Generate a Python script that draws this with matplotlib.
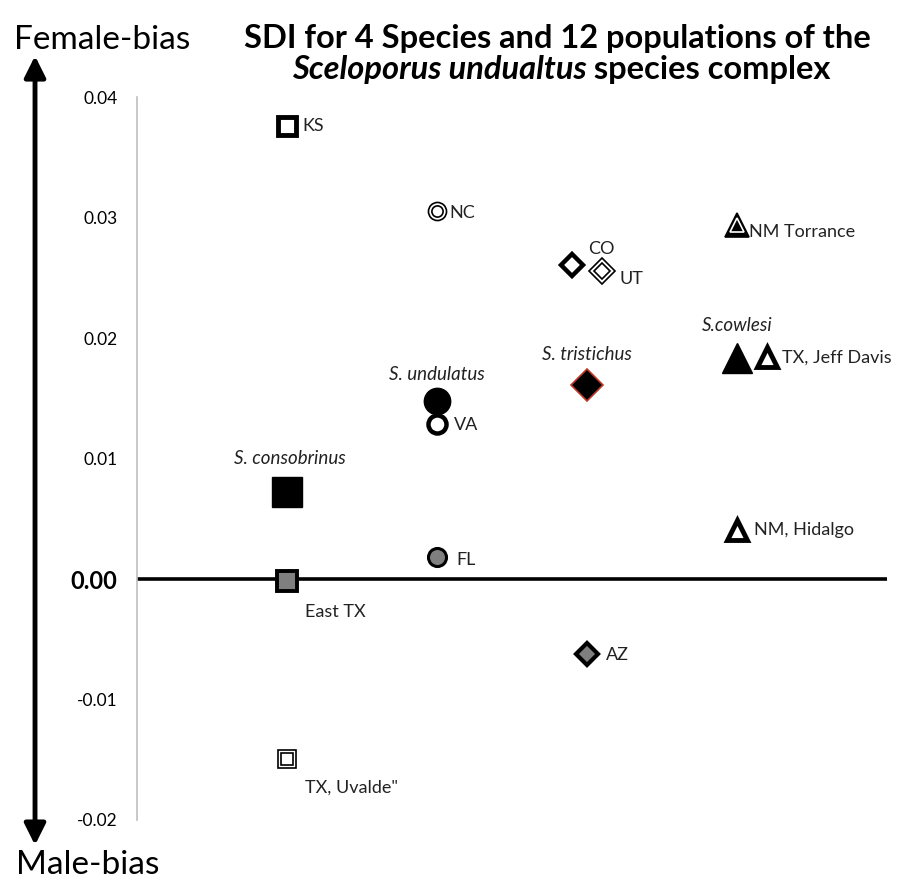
import matplotlib.pyplot as plt

plt.rcParams['font.family'] = ['Lato', 'DejaVu Sans']

# populations / species, position along x (species column), SDI value
names = ["KS", "NC", "CO", "UT", "NM Torrance", "S.cowlesi", "TX, Jeff Davis",
         "S. tristichus", "S. undulatus", "VA", "S. consobrinus", "NM, Hidalgo",
         "FL", "East TX", "AZ", "TX, Uvalde\""]
x_pos = [1, 2, 2.9, 3.1, 4, 4, 4.2, 3, 2, 2, 1, 4, 2, 1, 3, 1]
sdi = [0.0376, 0.0305, 0.0261, 0.0256, 0.0294, 0.0183, 0.0184, 0.0161,
       0.0148, 0.0129, 0.0072, 0.0041, 0.0018, -0.0002, -0.0062, -0.0149]
yticks = [-0.02, -0.01, 0.00, 0.01, 0.02, 0.03, 0.04]

# marker style per point: (marker, size, face, edge, edge width, double)
styles = [
    ("s", 13, "white", "black", 3.5, False),
    ("o", 13, "white", "black", 1.2, True),
    ("D", 11, "white", "black", 3.2, False),
    ("D", 13, "white", "black", 1.2, True),
    ("^", 17, "black", "black", 1.2, True),
    ("^", 21, "black", "black", 1, False),
    ("^", 15, "white", "black", 3.5, False),
    ("D", 16, "black", "#c0392b", 1.2, False),
    ("o", 19, "black", "black", 1, False),
    ("o", 13, "white", "black", 3.2, False),
    ("s", 22, "black", "black", 1, False),
    ("^", 15, "white", "black", 3.5, False),
    ("o", 13, "#7f7f7f", "black", 2.2, False),
    ("s", 14, "#7f7f7f", "black", 2.8, False),
    ("D", 11, "#7f7f7f", "black", 3, False),
    ("s", 13, "white", "black", 1.2, True),
]
# label offsets in points and alignment, italic for species
label_pos = [
    (11, 0, "left", "center", False),
    (9, -1, "left", "center", False),
    (12, 11, "left", "center", False),
    (13, -6, "left", "center", False),
    (9, -5, "left", "center", False),
    (0, 24, "center", "center", True),
    (11, 0, "left", "center", False),
    (0, 22, "center", "center", True),
    (0, 19, "center", "center", True),
    (12, -1, "left", "center", False),
    (2, 24, "center", "center", True),
    (12, 0, "left", "center", False),
    (14, -2, "left", "center", False),
    (13, -22, "left", "center", False),
    (14, -1, "left", "center", False),
    (13, -21, "left", "center", False),
]

fig = plt.figure(figsize=(8.98, 8.86), dpi=100)
ax = fig.add_axes([0.1526, 0.0745, 0.835, 0.816])

ax.axhline(0, color="black", lw=2.6, zorder=1)

for i in range(len(names)):
    m, ms, fc, ec, ew, dbl = styles[i]
    ax.plot(x_pos[i], sdi[i], marker=m, ms=ms, mfc=fc, mec=ec, mew=ew,
            ls="none", zorder=3)
    if dbl:
        ax.plot(x_pos[i], sdi[i], marker=m, ms=ms * 0.62, mfc=fc,
                mec="white" if fc == "black" else "black", mew=1.2,
                ls="none", zorder=4)
    dx, dy, ha, va, it = label_pos[i]
    ax.annotate(names[i], (x_pos[i], sdi[i]), xytext=(dx, dy),
                textcoords="offset points", ha=ha, va=va,
                fontsize=13.5 if it else 13,
                style="italic" if it else "normal", color="#222222")

ax.set_xlim(0, 5)
ax.set_ylim(-0.02, 0.04)
ax.set_yticks(yticks)
ax.set_yticklabels(["%.2f" % v for v in yticks])
ax.set_xticks([])
for lab in ax.get_yticklabels():
    lab.set_fontsize(12.5)
    if lab.get_text() == "0.00":
        lab.set_fontweight("bold")
        lab.set_fontsize(17)
ax.tick_params(axis="y", length=0, pad=14)
for s in ["top", "right", "bottom"]:
    ax.spines[s].set_visible(False)
ax.spines["left"].set_color("#bfbfbf")
ax.spines["left"].set_linewidth(1.2)

# title, second line partly italic (centred as a whole)
fig.text(0.621, 0.957, "SDI for 4 Species and 12 populations of the",
         ha="center", va="center", fontsize=23.5, fontweight="bold")
t1 = fig.text(0.5, 0.921, "Sceloporus undualtus", ha="right", va="center",
              fontsize=23.5, fontweight="bold", style="italic")
t2 = fig.text(0.5, 0.921, " species complex", ha="left", va="center",
              fontsize=23.5, fontweight="bold")
fig.canvas.draw()
r = fig.canvas.get_renderer()
w1 = t1.get_window_extent(r).width / fig.bbox.width
w2 = t2.get_window_extent(r).width / fig.bbox.width
split = 0.625 - (w1 + w2) / 2 + w1
t1.set_x(split)
t2.set_x(split)

# bias arrow
fig.patches.append(plt.matplotlib.patches.FancyArrowPatch(
    (0.039, 0.043), (0.039, 0.94), transform=fig.transFigure,
    arrowstyle="<|-|>", mutation_scale=32, lw=3.5, color="black"))
fig.text(0.114, 0.955, "Female-bias", ha="center", va="center", fontsize=24)
fig.text(0.098, 0.024, "Male-bias", ha="center", va="center", fontsize=24)

fig.savefig("out.png", dpi=100)
